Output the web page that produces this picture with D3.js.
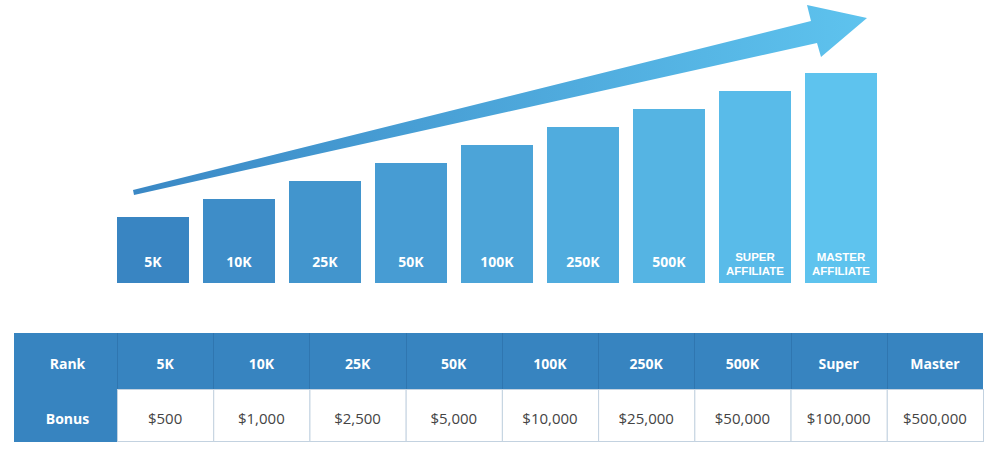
<!DOCTYPE html>
<html>
<head>
<meta charset="utf-8">
<script src="https://cdn.jsdelivr.net/npm/d3@7"></script>
<style>
  html, body { margin: 0; padding: 0; background: #ffffff; }
  svg { display: block; }
</style>
</head>
<body>
<svg id="chart" width="1000" height="464"></svg>
<script>
// ---- data ----
const ranks = ["5K", "10K", "25K", "50K", "100K", "250K", "500K", "SUPER AFFILIATE", "MASTER AFFILIATE"];
const levels = [66, 84, 102, 120, 138, 156, 174, 192, 210];
const tableRanks = ["5K", "10K", "25K", "50K", "100K", "250K", "500K", "Super", "Master"];
const bonuses = ["$500", "$1,000", "$2,500", "$5,000", "$10,000", "$25,000", "$50,000", "$100,000", "$500,000"];
const rowLabels = ["Rank", "Bonus"];

const svg = d3.select("#chart");
const font = "'Open Sans', 'DejaVu Sans', sans-serif";
const font2 = "'Liberation Sans', Arial, sans-serif";

// ---- bar chart ----
const barBase = 283;
const x = d3.scaleBand().domain(ranks).range([117, 877]).paddingInner(14 / 86).paddingOuter(0);
const y = d3.scaleLinear().domain([0, 210]).range([barBase, 73]);
const color = d3.scaleLinear().domain([0, ranks.length - 1]).range(["#3985c2", "#5ec3ee"]).interpolate(d3.interpolateRgb);

const bars = svg.append("g");
bars.selectAll("rect").data(ranks).join("rect")
  .attr("x", d => x(d))
  .attr("y", (d, i) => y(levels[i]))
  .attr("width", x.bandwidth())
  .attr("height", (d, i) => barBase - y(levels[i]))
  .attr("fill", (d, i) => color(i));

const labelData = [];
ranks.forEach(d => {
  const parts = d.split(" ");
  if (parts.length === 1) labelData.push({ key: d, text: d, y: 267, size: 14, f: font });
  else parts.forEach((p, j) => labelData.push({ key: d, text: p, y: 260.5 + j * 14, size: 11.5, f: font2 }));
});
bars.selectAll("text").data(labelData).join("text")
  .attr("x", d => x(d.key) + x.bandwidth() / 2)
  .attr("y", d => d.y)
  .attr("text-anchor", "middle")
  .attr("fill", "#ffffff")
  .attr("font-family", d => d.f)
  .attr("font-weight", 700)
  .attr("font-size", d => d.size)
  .text(d => d.text);

// ---- growth arrow ----
const x0 = x(ranks[0]) + 16;
const x1 = x(ranks[ranks.length - 1]) + x.bandwidth();
const defs = svg.append("defs");
const grad = defs.append("linearGradient").attr("id", "arrowGrad")
  .attr("gradientUnits", "userSpaceOnUse")
  .attr("x1", x0).attr("y1", 0).attr("x2", x1 - 10).attr("y2", 0);
grad.append("stop").attr("offset", 0).attr("stop-color", "#3a88c5");
grad.append("stop").attr("offset", 1).attr("stop-color", "#5ec3ee");
const arrowPts = [
  [x0, 190], [x1 - 66, 21], [x1 - 70, 5], [x1 - 10, 18], [x1 - 56, 57], [x1 - 60, 43], [x0 + 1, 195]
];
svg.append("path")
  .attr("d", d3.line()(arrowPts) + "Z")
  .attr("fill", "url(#arrowGrad)");

// ---- table ----
const tLeft = 14, tRight = 983, firstColW = 103;
const headTop = 333, headH = 56, bodyH = 53;
const cx = d3.scaleBand().domain(tableRanks).range([tLeft + firstColW, tRight]);
const tbl = svg.append("g");
tbl.append("rect").attr("x", tLeft).attr("y", headTop).attr("width", tRight - tLeft).attr("height", headH).attr("fill", "#3784c0");
tbl.append("rect").attr("x", tLeft).attr("y", headTop).attr("width", firstColW).attr("height", headH + bodyH).attr("fill", "#3784c0");
tbl.selectAll("rect.cell").data(tableRanks).join("rect").attr("class", "cell")
  .attr("x", d => cx(d) + 0.5).attr("y", headTop + headH + 0.5)
  .attr("width", cx.bandwidth()).attr("height", bodyH - 1)
  .attr("fill", "#ffffff").attr("stroke", "#c3d2e0").attr("stroke-width", 1);
tbl.selectAll("line.hsep").data(tableRanks).join("line").attr("class", "hsep")
  .attr("x1", d => Math.round(cx(d)) + 0.5).attr("x2", d => Math.round(cx(d)) + 0.5)
  .attr("y1", headTop).attr("y2", headTop + headH)
  .attr("stroke", "#2f76b0").attr("stroke-width", 1);
tbl.selectAll("text.head").data(tableRanks).join("text").attr("class", "head")
  .attr("x", d => cx(d) + cx.bandwidth() / 2).attr("y", 369)
  .attr("text-anchor", "middle").attr("fill", "#ffffff")
  .attr("font-family", font).attr("font-weight", 700).attr("font-size", 14)
  .text(d => d);
tbl.selectAll("text.body").data(bonuses).join("text").attr("class", "body")
  .attr("x", (d, i) => cx(tableRanks[i]) + cx.bandwidth() / 2).attr("y", 424)
  .attr("text-anchor", "middle").attr("fill", "#444444")
  .attr("font-family", font).attr("font-weight", 400).attr("font-size", 15)
  .text(d => d);
tbl.selectAll("text.row").data(rowLabels).join("text").attr("class", "row")
  .attr("x", tLeft + firstColW / 2 + 2).attr("y", (d, i) => i === 0 ? 369 : 424)
  .attr("text-anchor", "middle").attr("fill", "#ffffff")
  .attr("font-family", font).attr("font-weight", 700).attr("font-size", 14)
  .text(d => d);
</script>
</body>
</html>
